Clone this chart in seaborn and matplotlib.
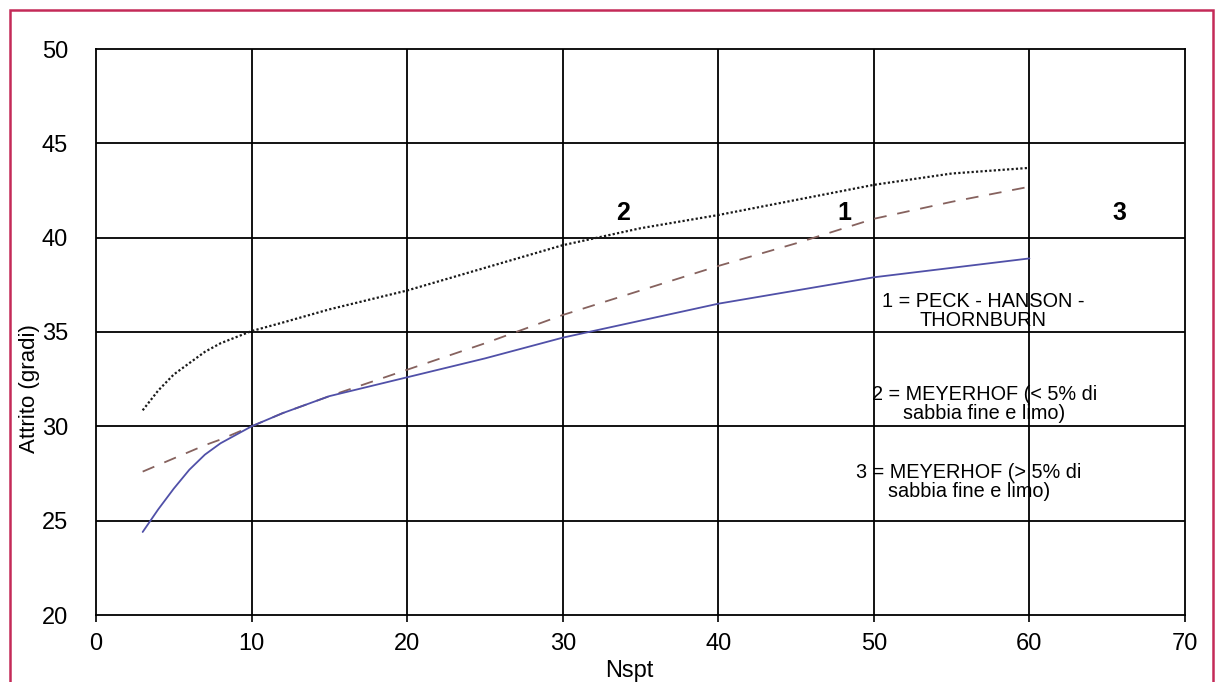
import matplotlib
matplotlib.use("Agg")
import matplotlib.pyplot as plt
import seaborn as sns
import pandas as pd
from matplotlib.patches import Rectangle

# Nspt values and friction angle (degrees) for each correlation
nspt = [3, 4, 5, 6, 7, 8, 10, 12, 15, 20, 25, 30, 35, 40, 45, 50, 55, 60]
peck_hanson_thornburn = [27.6, 27.95, 28.3, 28.65, 29.0, 29.3, 30.0, 30.7, 31.6,
                         33.0, 34.4, 35.9, 37.2, 38.5, 39.7, 41.0, 41.9, 42.7]
meyerhof_lt5 = [30.85, 31.9, 32.75, 33.35, 33.95, 34.4, 35.05, 35.5, 36.2,
                37.2, 38.4, 39.6, 40.5, 41.2, 42.0, 42.8, 43.4, 43.7]
meyerhof_gt5 = [24.4, 25.6, 26.7, 27.7, 28.5, 29.1, 30.0, 30.7, 31.6,
                32.6, 33.6, 34.7, 35.6, 36.5, 37.2, 37.9, 38.4, 38.9]

x_ticks = [0, 10, 20, 30, 40, 50, 60, 70]
y_ticks = [20, 25, 30, 35, 40, 45, 50]

curve_tags = ["2", "1", "3"]
curve_tag_x = [33.9, 48.1, 65.8]
curve_tag_y = [41.3, 41.3, 41.3]

legend_lines = ["1 = PECK - HANSON -\nTHORNBURN",
                "2 = MEYERHOF (< 5% di\nsabbia fine e limo)",
                "3 = MEYERHOF (> 5% di\nsabbia fine e limo)"]
legend_x = [57.0, 57.1, 56.1]
legend_y = [36.1, 31.2, 27.05]

sns.set_theme(style="white")
plt.rcParams["font.family"] = ["Liberation Sans", "DejaVu Sans"]
plt.rcParams["text.color"] = "black"
plt.rcParams["axes.labelcolor"] = "black"
plt.rcParams["xtick.color"] = "black"
plt.rcParams["ytick.color"] = "black"

df = pd.DataFrame({
    "Nspt": nspt * 3,
    "Attrito": peck_hanson_thornburn + meyerhof_lt5 + meyerhof_gt5,
    "curve": ["1"] * len(nspt) + ["2"] * len(nspt) + ["3"] * len(nspt),
})

fig = plt.figure(figsize=(12.17, 6.82), dpi=100)
fig.patch.set_facecolor("white")
ax = fig.add_axes([96 / 1217, 1 - 615 / 682, (1185 - 96) / 1217, (615 - 49) / 682])

# grid drawn beneath the curves
for xv in x_ticks[1:-1]:
    ax.axvline(xv, color="black", lw=1.3, zorder=1)
for yv in y_ticks[1:-1]:
    ax.axhline(yv, color="black", lw=1.3, zorder=1)

sns.lineplot(data=df[df["curve"] == "2"], x="Nspt", y="Attrito", ax=ax,
             color="#1a1a1a", lw=1.6, linestyle=(0, (1, 1)), zorder=3,
             legend=False, errorbar=None)
sns.lineplot(data=df[df["curve"] == "1"], x="Nspt", y="Attrito", ax=ax,
             color="#86625e", lw=1.3, linestyle=(0, (7, 6)), zorder=3,
             legend=False, errorbar=None)
sns.lineplot(data=df[df["curve"] == "3"], x="Nspt", y="Attrito", ax=ax,
             color="#5050a8", lw=1.3, zorder=3, legend=False, errorbar=None)

ax.set_xlim(0, 70)
ax.set_ylim(20, 50)
ax.set_xticks(x_ticks)
ax.set_yticks(y_ticks)
ax.tick_params(axis="x", direction="out", length=5, width=1.2, color="black",
               labelsize=17, pad=8, bottom=True, labelcolor="black")
ax.tick_params(axis="y", length=0, labelsize=17, pad=20, left=True,
               labelcolor="black")
for s in ax.spines.values():
    s.set_color("black")
    s.set_linewidth(1.3)
    s.set_visible(True)

ax.set_xlabel("Nspt", fontsize=17, color="black")
ax.xaxis.set_label_coords(0.49, -0.08)
ax.set_ylabel("Attrito (gradi)", fontsize=16, color="black")
ax.yaxis.label.set_verticalalignment("center")
ax.yaxis.set_label_coords(-0.061, 0.40)

for t, tx, ty in zip(curve_tags, curve_tag_x, curve_tag_y):
    ax.text(tx, ty, t, fontsize=18, fontweight="bold", ha="center", va="center",
            color="black", zorder=5)

for t, tx, ty in zip(legend_lines, legend_x, legend_y):
    ax.text(tx, ty, t, fontsize=14.3, ha="center", va="center", linespacing=1.0,
            color="black", zorder=5)

# outer frame
fig.patches.append(Rectangle((10 / 1217, -0.05), (1213 - 10) / 1217, 1.05 - 10 / 682,
                             transform=fig.transFigure, fill=False,
                             edgecolor="#c42a58", lw=1.8))

fig.savefig("out.png", dpi=100, facecolor="white")
